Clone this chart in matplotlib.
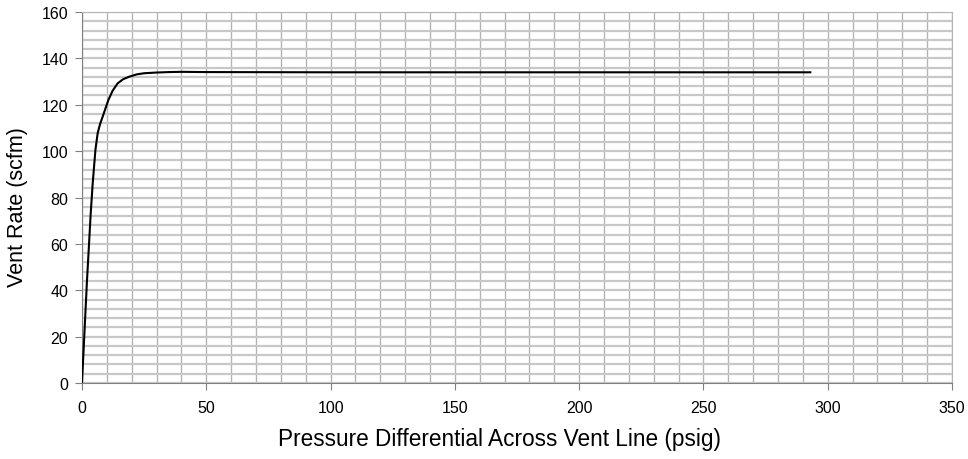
import numpy as np
import matplotlib.pyplot as plt
from matplotlib.ticker import MultipleLocator

# pressure differential (psig) and vent rate (scfm)
pressure = [0, 1, 2, 2.7, 3.5, 4.3, 5.4, 6.3, 7.3, 8.3, 9.5, 10.6, 12.3, 14.3, 16.5, 19, 22, 25, 30, 35, 40, 50,
            100, 150, 200, 250, 293]
vent_rate = [0, 22, 44, 57.4, 73, 86, 100.5, 107.7, 111.8, 114.8, 118.6, 122, 126, 129.2, 131, 132.1, 133.1, 133.6,
             133.9, 134.1, 134.2, 134.1, 134, 134, 134, 134, 134]

plt.rcParams['font.family'] = ['Liberation Sans', 'DejaVu Sans']

fig = plt.figure(figsize=(9.68, 4.6), dpi=100)
ax = fig.add_axes([0.0847, 0.1652, 0.8988, 0.8065])

ax.plot(pressure, vent_rate, color='black', lw=1.5, zorder=3)

ax.set_xlim(0, 350)
ax.set_ylim(0, 160)
ax.xaxis.set_major_locator(MultipleLocator(50))
ax.xaxis.set_minor_locator(MultipleLocator(10))
ax.yaxis.set_major_locator(MultipleLocator(20))
ax.yaxis.set_minor_locator(MultipleLocator(4))

ax.grid(True, which='both', axis='x', color='#b4b4b4', lw=1)
ax.grid(True, which='both', axis='y', color='#c8c8c8', lw=1.6)
ax.tick_params(which='minor', length=0)
ax.tick_params(which='major', length=5, color='#808080', labelsize=11.5)
ax.tick_params(axis='y', pad=5)
ax.tick_params(axis='x', pad=7)

for s in ['top', 'right']:
    ax.spines[s].set_color('#b4b4b4')
for s in ['left', 'bottom']:
    ax.spines[s].set_color('#808080')

fig.text(499 / 968, 1 - 440 / 460, 'Pressure Differential Across Vent Line (psig)',
         fontsize=16.3, ha='center', va='center')
fig.text(18 / 968, 1 - 207 / 460, 'Vent Rate (scfm)', fontsize=15.5,
         rotation=90, ha='center', va='center')

fig.savefig('out.png', dpi=100)
